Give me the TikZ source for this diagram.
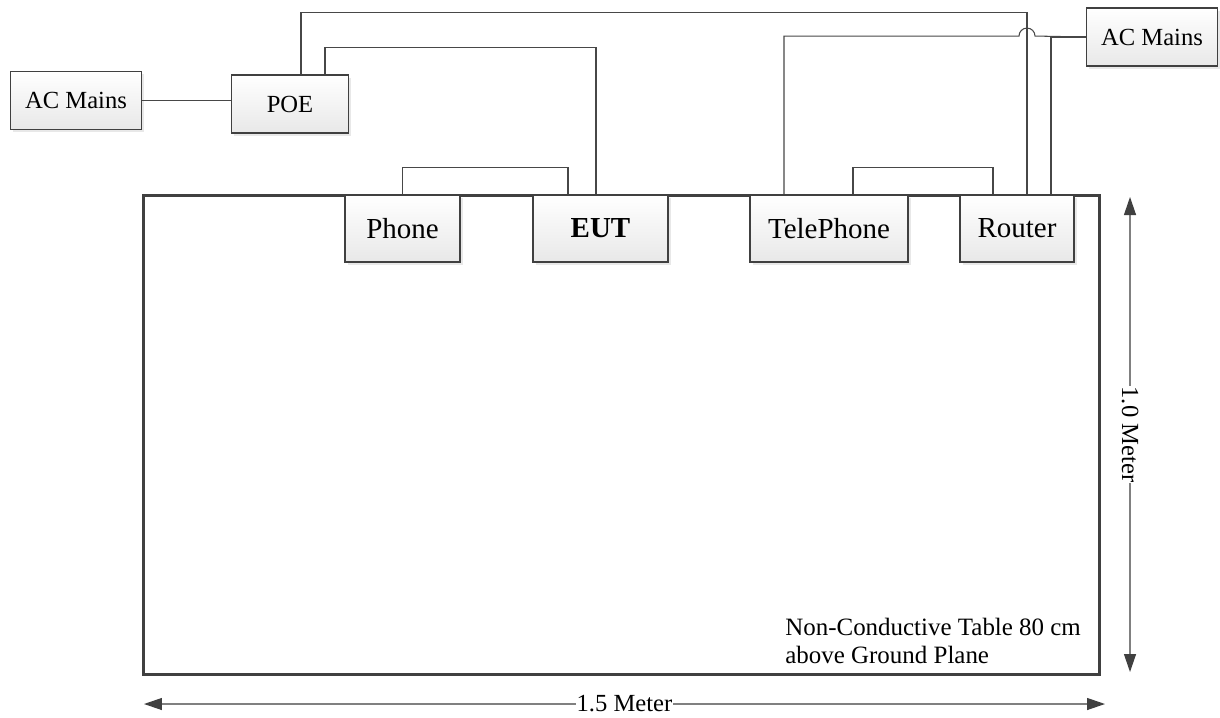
\documentclass[tikz,border=0pt]{standalone}
\usepackage{fontspec}
\setmainfont{Liberation Serif}
\usetikzlibrary{arrows.meta,shapes,positioning,calc,shadows}
\tikzset{
  basic/.style  = {draw=black!75, line width=1.1pt, rectangle, inner sep=0pt,
  top color=white, bottom color=black!9,
  drop shadow={shadow xshift=1.6pt, shadow yshift=-1.6pt, fill=black!18}},
  mains/.style  = {basic, minimum width=2.62cm, minimum height=1.16cm,
  font=\fontsize{14}{16}\selectfont},
  device/.style = {basic, minimum height=1.34cm, font=\fontsize{16.5}{19}\selectfont},
  tablebox/.style = {draw=black!75, line width=1.7pt, rectangle, inner sep=0pt,
  minimum width=19.14cm, minimum height=9.6cm},
  wire/.style   = {draw=black!72, line width=0.6pt},
  dimline/.style = {draw=black!50, line width=0.7pt,
  {Triangle[length=0.36cm, width=0.24cm, color=black!75]}-{Triangle[length=0.36cm, width=0.24cm, color=black!75]}},
  dimlabel/.style = {fill=white, inner sep=0.6pt, text=black, font=\fontsize{14}{16}\selectfont}
}
\begin{document}
\begin{tikzpicture}[x=0.02cm, y=-0.02cm]
\useasboundingbox (0,0) rectangle (1220,717);
% table
\node[tablebox] (table) at (621.5,435) {};
\node[anchor=north west, align=left, inner sep=0pt,
  font=\fontsize{14.2}{16}\selectfont] (tablenote) at (785,618)
  {Non-Conductive Table 80 cm\\above Ground Plane};
% supply side
\node[mains] (acleft) at (76,100.5) {AC Mains};
\node[mains, minimum width=2.34cm] (poe) at (290,104) {POE};
\node[mains] (acright) at (1152,37) {AC Mains};
% devices on the table
\node[device, minimum width=2.3cm] (phone) at (402.5,228.5) {Phone};
\node[device, minimum width=2.7cm] (eut) at (600.5,228.5) {\textbf{EUT}};
\node[device, minimum width=3.16cm] (tele) at (829,228.5) {TelePhone};
\node[device, minimum width=2.28cm] (router) at (1017,228.5) {Router};
% wiring
\path[wire] (acleft.east) -- (acleft.east -| poe.west);
\path[wire] ($(poe.north)+(11,0)$) -- ++(0,-62) -| ($(router.north)+(10,0)$);
\path[wire] ($(poe.north)+(35,0)$) -- ++(0,-27) -| ($(eut.north)+(-4.5,0)$);
\path[wire] (phone.north) -- ++(0,-27) -| ($(eut.north)+(-32.5,0)$);
\path[wire] ($(tele.north)+(24,0)$) -- ++(0,-27) -| ($(router.north)+(-24,0)$);
\path[wire] ($(tele.north)+(-45,0)$) |- ($(router.north)+(2,-158)$)
  arc[start angle=180, end angle=0, radius=0.16cm] -- (acright.west);
\path[wire] ($(router.north)+(34,0)$) |- (acright.west);
% dimensions
\coordinate (vtop) at (1130,197);
\coordinate (vbot) at (1130,672);
\coordinate (hleft) at (144,704);
\coordinate (hright) at (1105,704);
\path[dimline] (vtop) -- node[dimlabel, rotate=-90] (vlabel) {1.0 Meter} (vbot);
\path[dimline] (hleft) -- node[dimlabel] (hlabel) {1.5 Meter} (hright);
\end{tikzpicture}
\end{document}
